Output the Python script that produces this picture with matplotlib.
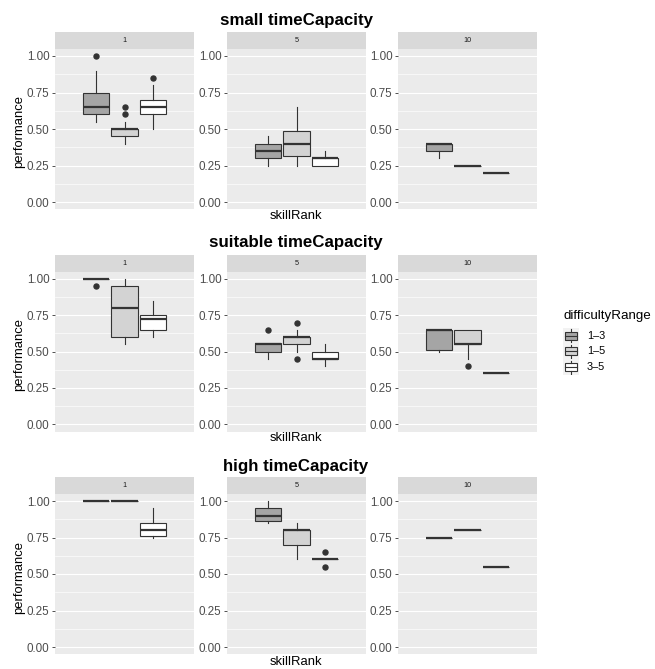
import matplotlib
matplotlib.use("Agg")
import matplotlib.pyplot as plt
from matplotlib.patches import Rectangle

plt.rcParams["font.family"] = ["Liberation Sans", "DejaVu Sans"]

# ---------------- data ----------------
row_titles = ["small timeCapacity", "suitable timeCapacity", "high timeCapacity"]
skill_ranks = ["1", "5", "10"]
difficulty_ranges = ["1\u20133", "1\u20135", "3\u20135"]
fill_colors = ["#a5a5a5", "#d3d3d3", "#ffffff"]

# indexed [row][skillRank][difficultyRange]
whislo = [
    [[0.55, 0.40, 0.50], [0.25, 0.25, 0.25], [0.30, 0.25, 0.20]],
    [[1.00, 0.55, 0.60], [0.45, 0.50, 0.40], [0.50, 0.45, 0.35]],
    [[1.00, 1.00, 0.75], [0.85, 0.60, 0.60], [0.75, 0.80, 0.55]],
]
q1 = [
    [[0.60, 0.45, 0.60], [0.30, 0.3125, 0.25], [0.35, 0.25, 0.20]],
    [[1.00, 0.60, 0.65], [0.50, 0.55, 0.45], [0.5125, 0.55, 0.35]],
    [[1.00, 1.00, 0.7625], [0.8625, 0.70, 0.60], [0.75, 0.80, 0.55]],
]
med = [
    [[0.65, 0.50, 0.65], [0.35, 0.40, 0.30], [0.40, 0.25, 0.20]],
    [[1.00, 0.80, 0.725], [0.55, 0.60, 0.45], [0.65, 0.55, 0.35]],
    [[1.00, 1.00, 0.80], [0.90, 0.80, 0.60], [0.75, 0.80, 0.55]],
]
q3 = [
    [[0.75, 0.50, 0.70], [0.40, 0.4875, 0.30], [0.40, 0.25, 0.20]],
    [[1.00, 0.95, 0.75], [0.5575, 0.60, 0.50], [0.65, 0.65, 0.35]],
    [[1.00, 1.00, 0.85], [0.95, 0.80, 0.60], [0.75, 0.80, 0.55]],
]
whishi = [
    [[0.90, 0.55, 0.80], [0.45, 0.65, 0.35], [0.40, 0.25, 0.20]],
    [[1.00, 1.00, 0.85], [0.5575, 0.65, 0.55], [0.65, 0.65, 0.35]],
    [[1.00, 1.00, 0.95], [1.00, 0.85, 0.60], [0.75, 0.80, 0.55]],
]
fliers = [
    [[[1.00], [0.65, 0.60], [0.85]], [[], [], []], [[], [], []]],
    [[[0.95], [], []], [[0.65], [0.70, 0.45], []], [[], [0.40], []]],
    [[[], [], []], [[], [], [0.65, 0.55]], [[], [], []]],
]
y_ticks = [0.00, 0.25, 0.50, 0.75, 1.00]
y_tick_labels = ["0.00", "0.25", "0.50", "0.75", "1.00"]

# ---------------- layout ----------------
W, H = 655, 669
fig = plt.figure(figsize=(W / 100, H / 100), dpi=100)
fig.patch.set_facecolor("white")

panel_x = [(55, 194), (227, 366), (398, 537)]
panel_y = [(48.7, 209.3), (271.7, 431.6), (493.7, 654.3)]  # top, bottom in px
strip_h = 17
title_y = [20, 242, 466]
xlabel_y = [216, 438, 662]

positions = [0.75, 1.0, 1.25]
dark = "#333333"


def fx(x):
    return x / W


def fy(y):
    return 1 - y / H


for r in range(3):
    top, bot = panel_y[r]
    for c in range(3):
        x0, x1 = panel_x[c]
        ax = fig.add_axes([fx(x0), fy(bot), fx(x1) - fx(x0), fy(top) - fy(bot)])
        ax.set_facecolor("#ebebeb")
        for s in ax.spines.values():
            s.set_visible(False)
        ax.set_xlim(0.4, 1.6)
        ax.set_ylim(-0.05, 1.05)
        ax.set_yticks(y_ticks)
        ax.set_yticklabels(y_tick_labels)
        ax.set_yticks([0.125, 0.375, 0.625, 0.875], minor=True)
        ax.set_xticks([])
        ax.grid(axis="y", which="major", color="white", linewidth=0.85)
        ax.grid(axis="y", which="minor", color="white", linewidth=0.45)
        ax.set_axisbelow(True)
        ax.tick_params(axis="y", which="major", length=2.5, width=0.6, color=dark,
                       labelsize=8.4, labelcolor="#4d4d4d", pad=1.5)
        ax.tick_params(axis="y", which="minor", length=0)

        stats = []
        for k in range(3):
            stats.append(dict(whislo=whislo[r][c][k], q1=q1[r][c][k], med=med[r][c][k],
                              q3=q3[r][c][k], whishi=whishi[r][c][k],
                              fliers=fliers[r][c][k]))
        bp = ax.bxp(stats, positions=positions, widths=0.225, patch_artist=True,
                    showcaps=False, manage_ticks=False,
                    boxprops=dict(edgecolor=dark, linewidth=0.8),
                    medianprops=dict(color=dark, linewidth=1.6, solid_capstyle="butt"),
                    whiskerprops=dict(color=dark, linewidth=0.8),
                    flierprops=dict(marker="o", markerfacecolor=dark, markeredgecolor=dark,
                                    markersize=3.6, linestyle="none"))
        for patch, col in zip(bp["boxes"], fill_colors):
            patch.set_facecolor(col)

        # strip
        sax = fig.add_axes([fx(x0), fy(top), fx(x1) - fx(x0), strip_h / H])
        sax.set_facecolor("#d9d9d9")
        sax.set_xticks([])
        sax.set_yticks([])
        for s in sax.spines.values():
            s.set_visible(False)
        sax.text(0.5, 0.5, skill_ranks[c], ha="center", va="center", fontsize=5.2,
                 color="#1a1a1a", transform=sax.transAxes)

    fig.text(fx(19), fy((top + bot) / 2 + 3), "performance", rotation=90,
             ha="center", va="center", fontsize=9.4, color="black")
    fig.text(fx(296), fy(xlabel_y[r]), "skillRank", ha="center", va="center",
             fontsize=9.4, color="black")
    fig.text(fx(296), fy(title_y[r]), row_titles[r], ha="center", va="center",
             fontsize=12.2, fontweight="bold", color="black")


# ---------------- legend (drawn as a small key column) ----------------
key_left, key_w = 563, 16
key_tops = [327.7, 343.5, 359.3]
key_h = 15.8
fig.text(fx(563), fy(319), "difficultyRange", ha="left", va="baseline",
         fontsize=9.6, color="black")
for k, (lab, col) in enumerate(zip(difficulty_ranges, fill_colors)):
    kt = key_tops[k]
    kax = fig.add_axes([fx(key_left), fy(kt + key_h), key_w / W, key_h / H])
    kax.set_xlim(0, 1)
    kax.set_ylim(0, 1)
    kax.axis("off")
    kax.add_patch(Rectangle((0, 0), 1, 1, facecolor="#f2f2f2", edgecolor="none"))
    kax.add_patch(Rectangle((0.1, 0.25), 0.8, 0.5, facecolor=col, edgecolor=dark,
                            linewidth=0.8))
    kax.plot([0.1, 0.9], [0.5, 0.5], color=dark, linewidth=0.8)
    kax.plot([0.5, 0.5], [0.1, 0.25], color=dark, linewidth=0.8)
    kax.plot([0.5, 0.5], [0.75, 0.9], color=dark, linewidth=0.8)
    fig.text(fx(587), fy(kt + key_h / 2), lab, ha="left", va="center",
             fontsize=7.8, color="black")

fig.savefig("out.png", dpi=100, facecolor="white")
